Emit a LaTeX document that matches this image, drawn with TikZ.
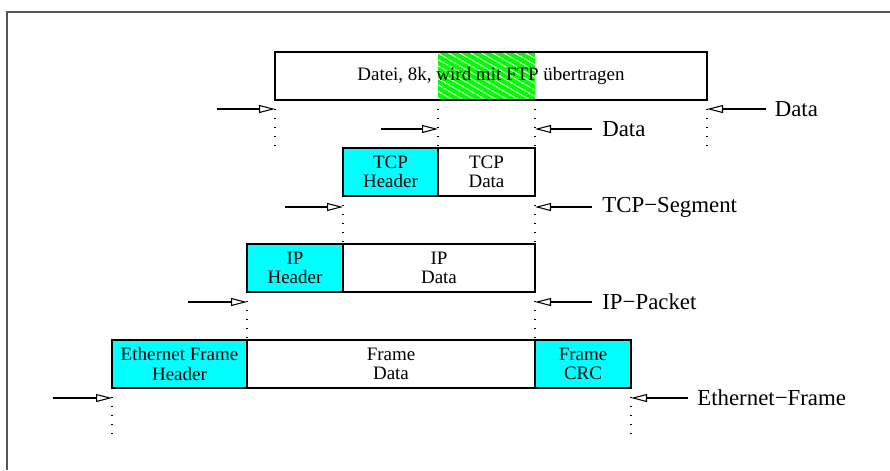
\documentclass[tikz,border=0pt]{standalone}
\usepackage{fontspec}
\setmainfont{Liberation Serif}
\usetikzlibrary{arrows.meta,positioning,calc,backgrounds}
\definecolor{hdrfill}{HTML}{00FFFF}
\definecolor{slicefill}{HTML}{00FF00}
\definecolor{framegray}{HTML}{555555}

\begin{document}
\begin{tikzpicture}[
  font=\fontsize{10.8}{11}\selectfont,
  seg/.style   = {draw, line width=0.8pt, minimum height=9.6mm, inner sep=0pt,
                  outer sep=0pt, align=center, anchor=north west},
  hdr/.style   = {seg, fill=hdrfill},
  body/.style  = {seg},
  guide/.style = {line width=0.8pt, dash pattern=on 0.8pt off 4.3pt},
  ptr/.style   = {-{Triangle[open, length=3.2mm, width=1.6mm]}, line width=0.6pt},
  lbl/.style   = {font=\fontsize{13}{15}\selectfont, inner sep=0pt},
  hatch/.style = {white, line width=0.5pt},
]
\useasboundingbox (0,0) rectangle (17.8,-9.4);
\draw[framegray, line width=0.6pt] (0.14,-9.4) |- (17.8,-0.24);

% ---------- the boxes -------------------------------------------------------------
\node[body, minimum width=86.4mm] (file) at (5.5,-1.04) {Datei, 8k, wird mit FTP übertragen};

\node[hdr, minimum width=19mm] (tcph) at (6.86,-2.96) {TCP\\Header};
\node[body, minimum width=19.4mm, right=0pt of tcph] (tcpd) {TCP\\Data};

\node[hdr, minimum width=19.2mm] (iph) at (4.94,-4.88) {IP\\Header};
\node[body, minimum width=38.4mm, right=0pt of iph] (ipd) {IP\\Data};

\node[hdr, minimum width=27mm] (ethh) at (2.24,-6.80) {Ethernet Frame\\Header};
\node[body, minimum width=57.6mm, right=0pt of ethh] (ethd) {Frame\\Data};
\node[hdr, minimum width=19.2mm, right=0pt of ethd] (ethc) {Frame\\CRC};

% the slice of the file that goes into the segment
\coordinate (sliceL) at (file.south -| tcpd.west);
\coordinate (sliceR) at (file.south -| tcpd.east);
\begin{scope}[on background layer]
  \fill[slicefill] (file.north -| tcpd.west) rectangle (sliceR);
  \clip (file.north -| tcpd.west) rectangle (sliceR);
  \foreach \i in {0,...,18}
    \draw[hatch] ($(file.north -| tcpd.west)+(\i*0.22-1.8,0)$) -- ++(-30:4cm);
\end{scope}

% ---------- dotted guides ---------------------------------------------------------
\foreach \p in {file.south west, sliceL, sliceR, file.south east,
                tcph.south west, tcpd.south east, iph.south west, ipd.south east,
                ethh.south west, ethc.south east}
  \draw[guide] (\p) -- ++(0,-9mm);

% ---------- arrows and labels -----------------------------------------------------
\coordinate[below=1.8mm of file.south west] (fileA);
\coordinate[below=1.8mm of file.south east] (fileB);
\coordinate[left=11.6mm of fileA]  (fileA0);
\coordinate[right=11.8mm of fileB] (fileB0);
\node[lbl, right=1.7mm of fileB0, anchor=west] (fileT) {Data};
\draw[ptr] (fileA0) -- (fileA);
\draw[ptr] (fileB0) -- (fileB);

\coordinate[below=5.8mm of sliceL] (dataA);
\coordinate[below=5.8mm of sliceR] (dataB);
\coordinate[left=11.4mm of dataA]  (dataA0);
\coordinate[right=11.4mm of dataB] (dataB0);
\node[lbl, right=2mm of dataB0, anchor=west] (dataT) {Data};
\draw[ptr] (dataA0) -- (dataA);
\draw[ptr] (dataB0) -- (dataB);

\coordinate[below=2.2mm of tcph.south west] (tcpA);
\coordinate[below=2.2mm of tcpd.south east] (tcpB);
\coordinate[left=11.6mm of tcpA]  (tcpA0);
\coordinate[right=11.4mm of tcpB] (tcpB0);
\node[lbl, right=2mm of tcpB0, anchor=west] (tcpT) {TCP−Segment};
\draw[ptr] (tcpA0) -- (tcpA);
\draw[ptr] (tcpB0) -- (tcpB);

\coordinate[below=2mm of iph.south west] (ipA);
\coordinate[below=2mm of ipd.south east] (ipB);
\coordinate[left=11.8mm of ipA]  (ipA0);
\coordinate[right=11.4mm of ipB] (ipB0);
\node[lbl, right=2mm of ipB0, anchor=west] (ipT) {IP−Packet};
\draw[ptr] (ipA0) -- (ipA);
\draw[ptr] (ipB0) -- (ipB);

\coordinate[below=2mm of ethh.south west] (ethA);
\coordinate[below=2mm of ethc.south east] (ethB);
\coordinate[left=11.8mm of ethA]  (ethA0);
\coordinate[right=11.4mm of ethB] (ethB0);
\node[lbl, right=1.8mm of ethB0, anchor=west] (ethT) {Ethernet−Frame};
\draw[ptr] (ethA0) -- (ethA);
\draw[ptr] (ethB0) -- (ethB);

\end{tikzpicture}
\end{document}
